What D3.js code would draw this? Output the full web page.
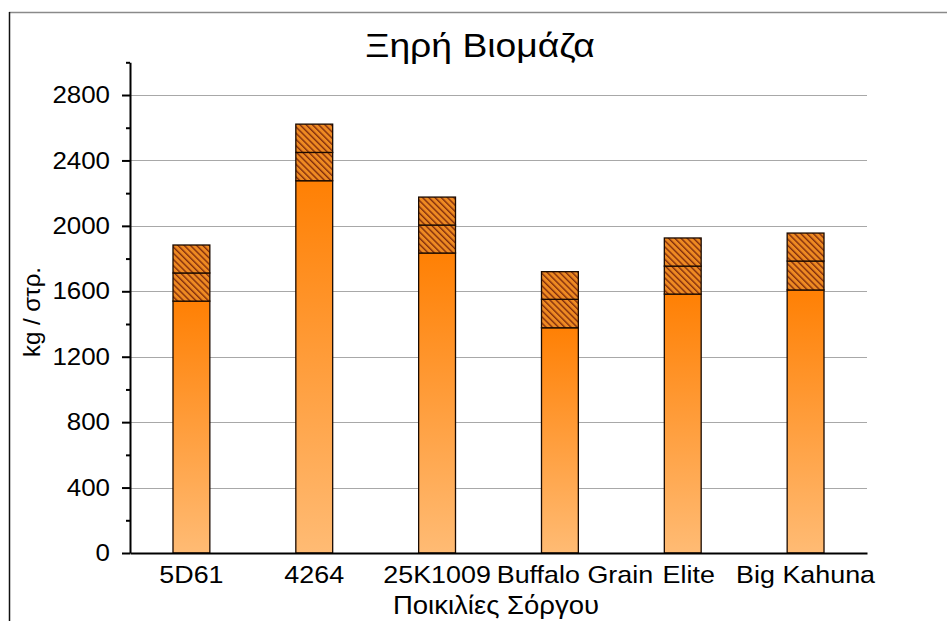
<!DOCTYPE html>
<html>
<head>
<meta charset="utf-8">
<script src="https://cdn.jsdelivr.net/npm/d3@7"></script>
<style>
  html, body { margin: 0; padding: 0; background: #fff; }
  svg { display: block; }
  text { font-family: "Liberation Sans", Arial, sans-serif; fill: #000; }
</style>
</head>
<body>
<svg id="chart" width="947" height="621"></svg>
<script>
// Dry biomass per sorghum variety (kg / stremma), three stacked parts
const categories = ["5D61", "4264", "25K1009", "Buffalo Grain", "Elite", "Big Kahuna"];
const baseValues  = [1540, 2276, 1834, 1377, 1583, 1608];
const lowerValues = [172, 173, 171, 174, 171, 177];
const upperValues = [171, 173, 171, 169, 172, 171];
const yMajorTicks = [0, 400, 800, 1200, 1600, 2000, 2400, 2800];
const yMinorTicks = [200, 600, 1000, 1400, 1800, 2200, 2600, 3000];

const titleText = "Ξηρή Βιομάζα";
const xTitle = "Ποικιλίες Σόργου";
const yTitle = "kg / στρ.";

const rows = categories.map((c, i) => ({
  cat: c, base: baseValues[i], lower: lowerValues[i], upper: upperValues[i]
}));

const svg = d3.select("#chart");
const plotLeft = 130, plotRight = 867, plotTop = 62.3, plotBottom = 553;
const FONT = "'Liberation Sans', Arial, sans-serif";
const WIDE = 1.12; // slightly widened lettering
// small horizontal shifts so the long category names do not collide
const labelShift = { "Buffalo Grain": 15, "Elite": 6 };

const x = d3.scaleBand().domain(categories).range([plotLeft, plotRight])
  .paddingInner(0.7).paddingOuter(0.35);
const y = d3.scaleLinear().domain([0, 3000]).range([plotBottom, plotTop]);

// defs: gradient for solid part, hatch for stacked parts
const defs = svg.append("defs");
const grad = defs.append("linearGradient").attr("id", "solidGrad")
  .attr("x1", 0).attr("y1", 0).attr("x2", 0).attr("y2", 1);
grad.append("stop").attr("offset", "0%").attr("stop-color", "#ff8004");
grad.append("stop").attr("offset", "100%").attr("stop-color", "#ffbb74");

const hatch = defs.append("pattern").attr("id", "hatch")
  .attr("patternUnits", "userSpaceOnUse").attr("width", 4.4).attr("height", 4.4)
  .attr("patternTransform", "rotate(-45)");
hatch.append("rect").attr("width", 4.4).attr("height", 4.4).attr("fill", "#ee8a22");
hatch.append("line").attr("x1", 0.7).attr("y1", 0).attr("x2", 0.7).attr("y2", 4.4)
  .attr("stroke", "#7a260a").attr("stroke-width", 1.3);

// outer frame
svg.append("line").attr("x1", 9).attr("x2", 947).attr("y1", 12.5).attr("y2", 12.5)
  .attr("stroke", "#8a8a8a").attr("stroke-width", 1.5);
svg.append("line").attr("x1", 9.5).attr("x2", 9.5).attr("y1", 12).attr("y2", 621)
  .attr("stroke", "#111").attr("stroke-width", 1.5);

// gridlines
svg.append("g").selectAll("line").data(yMajorTicks.filter(d => d > 0)).join("line")
  .attr("x1", plotLeft).attr("x2", plotRight)
  .attr("y1", d => Math.round(y(d)) + 0.5).attr("y2", d => Math.round(y(d)) + 0.5)
  .attr("stroke", "#a8a8a8").attr("stroke-width", 1);

// stacked bars
const stack = d3.stack().keys(["base", "lower", "upper"])(rows);
const fills = { base: "url(#solidGrad)", lower: "url(#hatch)", upper: "url(#hatch)" };
svg.append("g").selectAll("g").data(stack).join("g")
  .attr("fill", d => fills[d.key])
  .selectAll("rect").data(d => d).join("rect")
  .attr("x", d => x(d.data.cat))
  .attr("width", x.bandwidth())
  .attr("y", d => y(d[1]))
  .attr("height", d => y(d[0]) - y(d[1]))
  .attr("stroke", "#1a0a00").attr("stroke-width", 1.3);

// y axis: minor ticks then major ticks with labels
svg.append("g").attr("transform", `translate(${plotLeft},0)`)
  .call(d3.axisLeft(y).tickValues(yMinorTicks).tickSize(4).tickFormat(""))
  .call(g => g.select(".domain").remove())
  .call(g => g.selectAll("line").attr("stroke-width", 2));
svg.append("g").attr("transform", `translate(${plotLeft},0)`)
  .call(d3.axisLeft(y).tickValues(yMajorTicks).tickSize(8).tickSizeOuter(0)
    .tickPadding(10.5).tickFormat(d3.format("d")))
  .call(g => g.selectAll("line").attr("stroke-width", 2))
  .call(g => g.select(".domain").attr("stroke-width", 2))
  .call(g => g.selectAll("text").attr("font-size", 24).attr("font-family", FONT)
    .attr("transform", `scale(${1.08},1)`));

// x axis
svg.append("g").attr("transform", `translate(0,${plotBottom})`)
  .call(d3.axisBottom(x).tickSize(0).tickPadding(13))
  .call(g => g.select(".domain").attr("stroke-width", 2))
  .call(g => g.selectAll("text").attr("font-size", 24).attr("font-family", FONT)
    .attr("transform", d => `translate(${labelShift[d] || 0},0) scale(${WIDE},1)`));

// titles
svg.append("text").attr("transform", `translate(480,57) scale(1.13,1)`)
  .attr("text-anchor", "middle").attr("font-size", 33).text(titleText);
svg.append("text").attr("transform", `translate(496,614) scale(1.1,1)`)
  .attr("text-anchor", "middle").attr("font-size", 25).text(xTitle);
svg.append("text").attr("transform", "translate(40,312) rotate(-90)")
  .attr("text-anchor", "middle").attr("font-size", 24).text(yTitle);
</script>
</body>
</html>
